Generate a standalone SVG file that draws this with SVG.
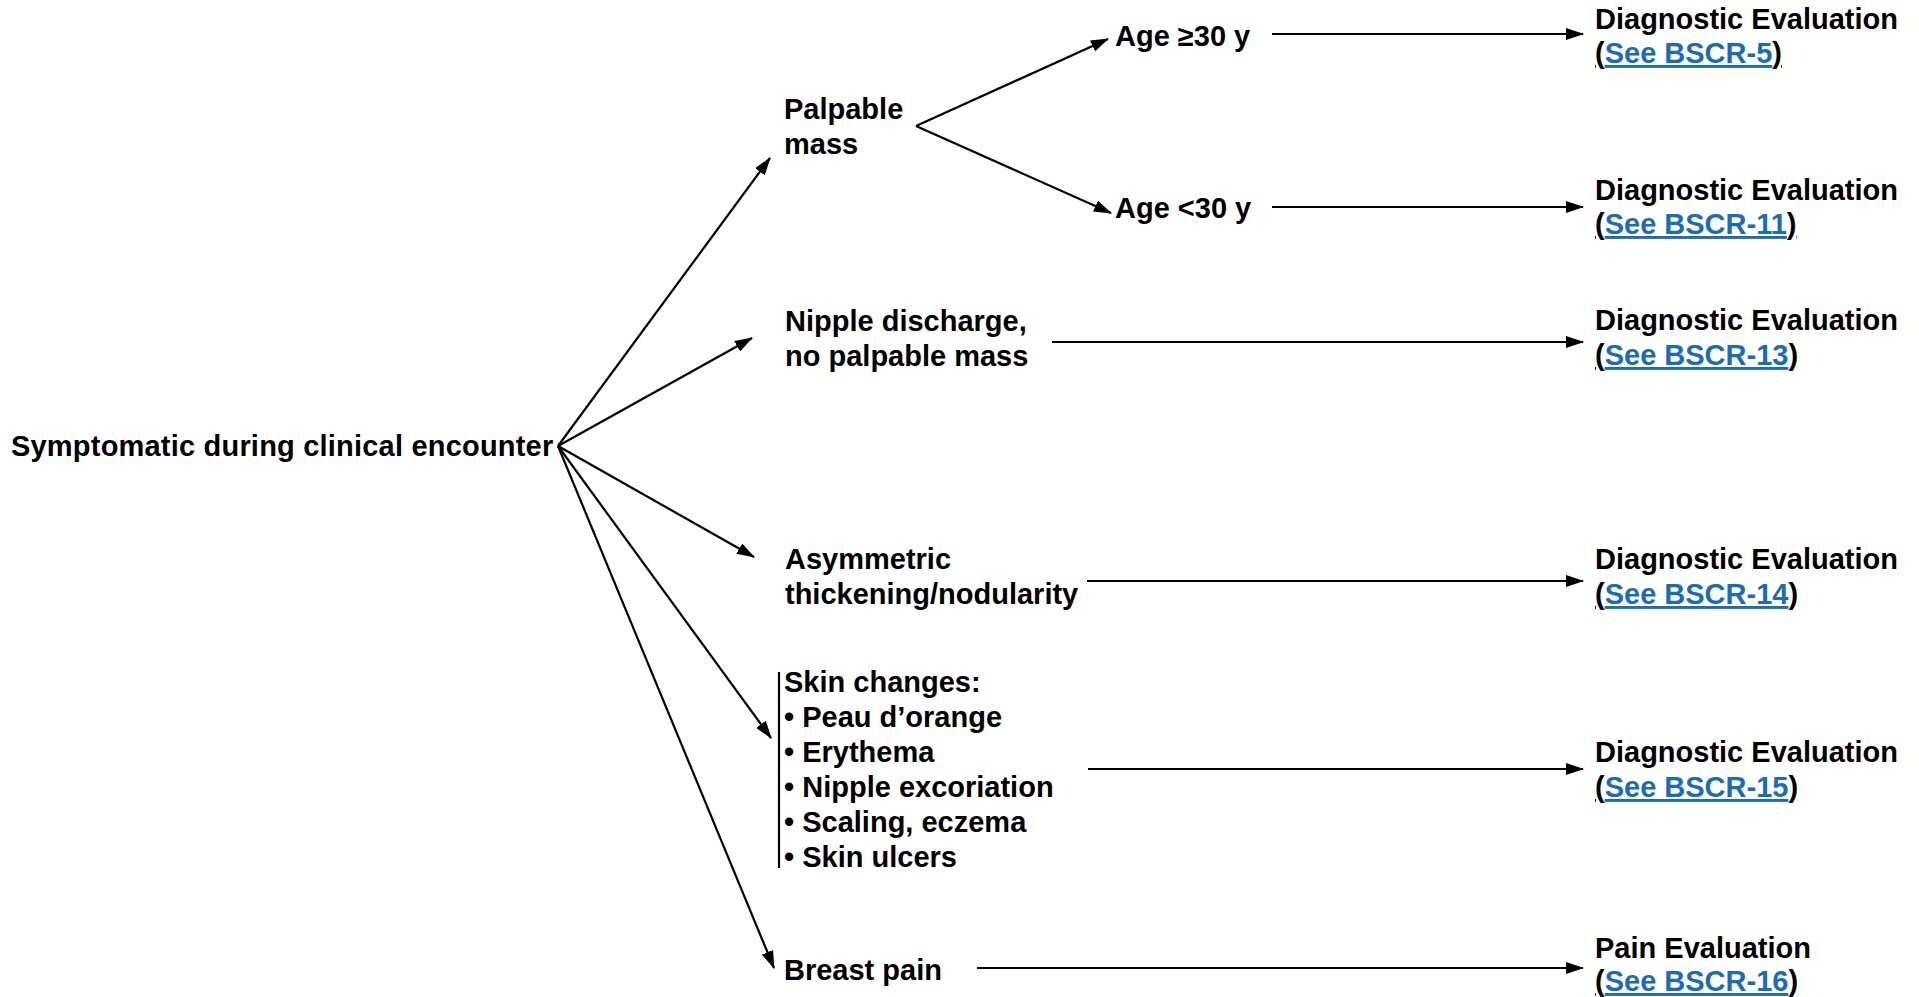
<svg xmlns="http://www.w3.org/2000/svg" width="1919" height="997" viewBox="0 0 1919 997">
<style>
text{font-family:"Liberation Sans",Arial,sans-serif;font-weight:bold;font-size:29px;letter-spacing:0;fill:#000}
.root{letter-spacing:0.2px}
.link{fill:#1B6CB0;text-decoration:underline}
.par{text-decoration:underline}
.conn line{stroke:#000;stroke-width:2.2;fill:none;marker-end:url(#ah)}
.bar{stroke:#000;stroke-width:2.2}
</style>
<defs>
<marker id="ah" markerUnits="userSpaceOnUse" markerWidth="18" markerHeight="12" refX="17" refY="6" orient="auto">
<path d="M0,0 L18,6 L0,12 z" fill="#000"/>
</marker>
</defs>
<rect width="1919" height="997" fill="#fff"/>
<g class="conn" id="connectors">
<line x1="558" y1="446" x2="770" y2="158"/>
<line x1="558" y1="446" x2="752" y2="338"/>
<line x1="558" y1="446" x2="754" y2="557"/>
<line x1="558" y1="446" x2="771" y2="738"/>
<line x1="558" y1="446" x2="774" y2="968"/>
<line x1="916" y1="126" x2="1108" y2="39"/>
<line x1="916" y1="126" x2="1111" y2="213"/>
<line x1="1272" y1="34" x2="1583" y2="34"/>
<line x1="1272" y1="207" x2="1583" y2="207"/>
<line x1="1052" y1="342" x2="1583" y2="342"/>
<line x1="1087" y1="581" x2="1583" y2="581"/>
<line x1="1088" y1="769" x2="1583" y2="769"/>
<line x1="977" y1="968" x2="1583" y2="968"/>
</g>
<g id="root"><text class="root" x="11" y="456">Symptomatic during clinical encounter</text></g>
<g id="palpable"><text x="784" y="119">Palpable</text><text x="784" y="154">mass</text></g>
<g id="age30plus"><text x="1115" y="46">Age ≥30 y</text></g>
<g id="age30minus"><text x="1115" y="218">Age &lt;30 y</text></g>
<g id="nipple"><text x="785" y="331">Nipple discharge,</text><text x="785" y="366">no palpable mass</text></g>
<g id="asym"><text x="785" y="569">Asymmetric</text><text x="785" y="604">thickening/nodularity</text></g>
<g id="skin">
<line class="bar" x1="779" y1="672" x2="779" y2="868"/>
<text x="784" y="692">Skin changes:</text>
<text x="784" y="727">• Peau d’orange</text>
<text x="784" y="762">• Erythema</text>
<text x="784" y="797">• Nipple excoriation</text>
<text x="784" y="832">• Scaling, eczema</text>
<text x="784" y="867">• Skin ulcers</text>
</g>
<g id="pain"><text x="784" y="980">Breast pain</text></g>
<g id="r1"><text x="1595" y="29">Diagnostic Evaluation</text><text x="1595" y="63"><tspan class="par">(</tspan><tspan class="link">See BSCR-5</tspan><tspan class="par">)</tspan></text></g>
<g id="r2"><text x="1595" y="200">Diagnostic Evaluation</text><text x="1595" y="234"><tspan class="par">(</tspan><tspan class="link">See BSCR-11</tspan><tspan class="par">)</tspan></text></g>
<g id="r3"><text x="1595" y="330">Diagnostic Evaluation</text><text x="1595" y="365"><tspan class="par">(</tspan><tspan class="link">See BSCR-13</tspan><tspan class="par">)</tspan></text></g>
<g id="r4"><text x="1595" y="569">Diagnostic Evaluation</text><text x="1595" y="604"><tspan class="par">(</tspan><tspan class="link">See BSCR-14</tspan><tspan class="par">)</tspan></text></g>
<g id="r5"><text x="1595" y="762">Diagnostic Evaluation</text><text x="1595" y="797"><tspan class="par">(</tspan><tspan class="link">See BSCR-15</tspan><tspan class="par">)</tspan></text></g>
<g id="r6"><text x="1595" y="958">Pain Evaluation</text><text x="1595" y="991"><tspan class="par">(</tspan><tspan class="link">See BSCR-16</tspan><tspan class="par">)</tspan></text></g>
</svg>
